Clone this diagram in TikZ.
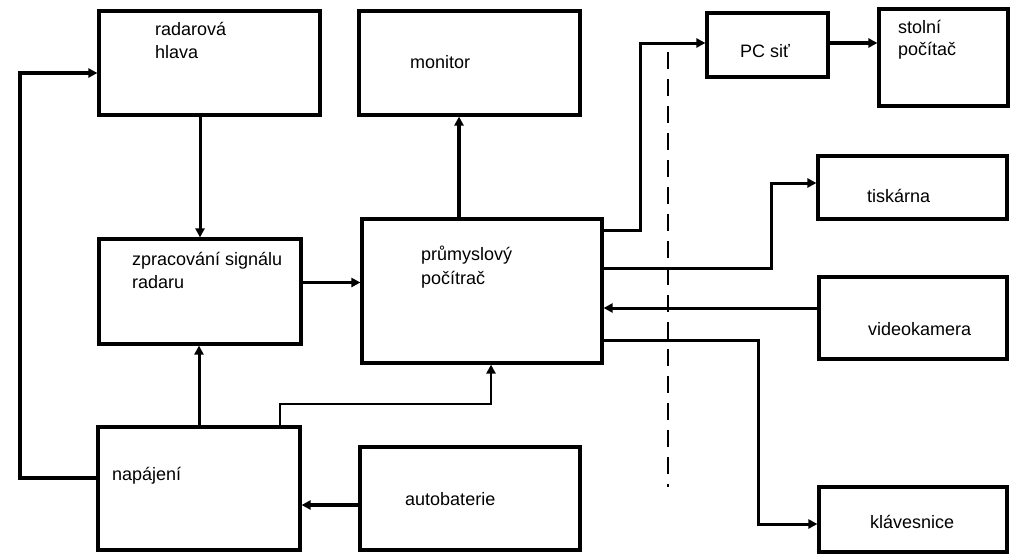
\documentclass[tikz,border=0pt]{standalone}
\usepackage{fontspec}
\setmainfont{Liberation Sans}
\usetikzlibrary{arrows.meta}
\begin{document}
\begin{tikzpicture}[x=1pt,y=-1pt,
  box/.style={draw, line width=3.2pt, rectangle, inner sep=0pt},
  lbl/.style={anchor=base west, font=\fontsize{18}{23}\selectfont, align=left, inner sep=0pt},
  conn/.style={line width=3pt, -{Triangle[length=9pt,width=9pt]}},
]
\useasboundingbox (0,0) rectangle (1014,554);
% boxes
\node[box, minimum width=221pt, minimum height=104pt] (radar)  at (209.5,63)  {};
\node[box, minimum width=221pt, minimum height=104pt] (monitor) at (469.5,63) {};
\node[box, minimum width=121pt, minimum height=64pt]  (pcsit)  at (767.5,45)  {};
\node[box, minimum width=129pt, minimum height=97pt]  (stolni) at (943.5,57.5) {};
\node[box, minimum width=189pt, minimum height=63pt]  (tisk)   at (912.5,187.5) {};
\node[box, minimum width=202pt, minimum height=105pt] (zprac)  at (200,291.5) {};
\node[box, minimum width=240pt, minimum height=144pt] (prum)   at (482,291) {};
\node[box, minimum width=188pt, minimum height=82pt]  (video)  at (913,318) {};
\node[box, minimum width=188pt, minimum height=65pt]  (klav)   at (913,519.5) {};
\node[box, minimum width=202pt, minimum height=123pt] (napaj)  at (199,488.5) {};
\node[box, minimum width=220pt, minimum height=103pt] (auto)   at (470,498.5) {};
% labels
\node[lbl] (tradar) at (155,58) {radarová\\hlava};
\node[lbl] (tmon) at (410,68) {monitor};
\node[lbl] (tpc) at (740,57) {PC siť};
\node[lbl, font=\fontsize{18}{22}\selectfont] (tstol) at (898,55) {stolní\\počítač};
\node[lbl] (ttisk) at (867,202) {tiskárna};
\node[lbl] (tzpr) at (132,288) {zpracování signálu\\radaru};
\node[lbl, font=\fontsize{18}{24}\selectfont] (tprum) at (421,284) {průmyslový\\počítrač};
\node[lbl] (tvid) at (868,335) {videokamera};
\node[lbl] (tklav) at (870,528) {klávesnice};
\node[lbl] (tnap) at (112,480) {napájení};
\node[lbl] (tauto) at (405,505) {autobaterie};
% helper coordinates
\coordinate (lx) at (20,73);
\coordinate (c4) at (491,404);
\coordinate (c7) at (640,43);
\coordinate (c9) at (771,183);
\coordinate (c11) at (758,524);
\coordinate (dtop) at (668,52);
\coordinate (dbot) at (668,487);
% connectors
\draw[conn, line width=4pt] ([yshift=10.5pt]napaj.west) -| (lx) -- (lx -| radar.west);
\draw[conn] (radar.south -| zprac.north) -- (zprac.north);
\draw[conn] (napaj.north) -- (napaj.north |- zprac.south);
\draw[conn, line width=2.6pt] ([xshift=81pt]napaj.north) |- (c4) -- (c4 |- prum.south);
\draw[conn] ([yshift=9pt]zprac.east) -- ([yshift=9pt]zprac.east -| prum.west);
\draw[conn, line width=3.4pt] ([xshift=-23pt]prum.north) -- ([xshift=-23pt]prum.north |- monitor.south);
\draw[conn] ([yshift=61pt]prum.east) -| (c7) -- (c7 -| pcsit.west);
\draw[conn, line width=4pt] (c7 -| pcsit.east) -- (c7 -| stolni.west);
\draw[conn] ([yshift=23pt]prum.east) -| (c9) -- (c9 -| tisk.west);
\draw[conn] ([yshift=10pt]video.west) -- ([yshift=10pt]video.west -| prum.east);
\draw[conn] ([yshift=-49pt]prum.east) -| (c11) -- (c11 -| klav.west);
\draw[conn, line width=3.4pt] ([yshift=-6.5pt]auto.west) -- ([yshift=-6.5pt]auto.west -| napaj.east);
\draw[line width=2.8pt, dash pattern=on 17pt off 10pt] (dtop) -- (dbot);
\end{tikzpicture}
\end{document}
